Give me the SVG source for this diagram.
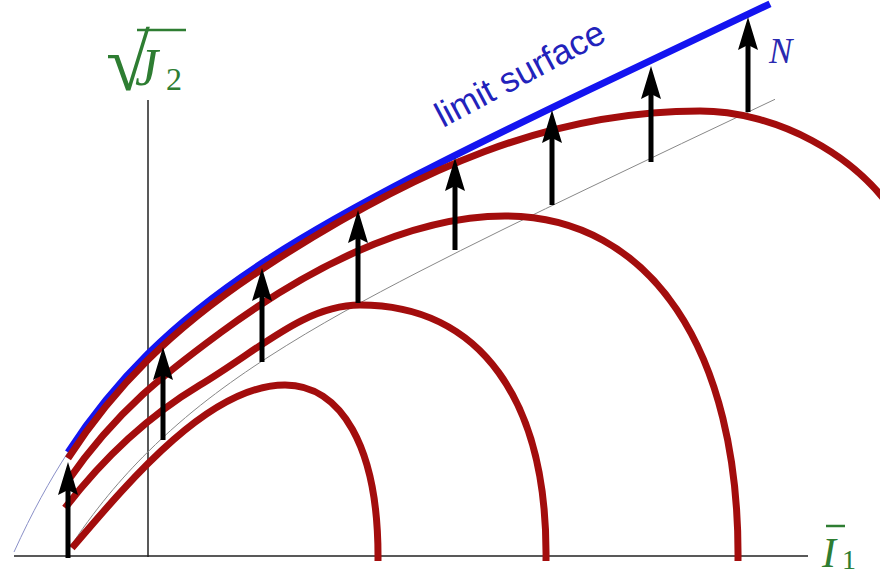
<svg xmlns="http://www.w3.org/2000/svg" xmlns:xlink="http://www.w3.org/1999/xlink" width="880" height="576" viewBox="0 0 880 576">
<defs>
<style>
.axis{stroke:#222;stroke-width:1.5;fill:none}
.thin{stroke:#888;stroke-width:1;fill:none}
.thinb{stroke:#8a90c8;stroke-width:1;fill:none}
.limit{stroke:#1414f0;stroke-width:7;fill:none}
.cap{stroke:#a30d0d;stroke-width:7;fill:none;stroke-linecap:butt}
.shaft{stroke:#000;stroke-width:5}
.lbl{fill:#2e7d32;font-family:"Liberation Serif",serif}
</style>
<path id="ah" d="M0,0 L-10,33 L0,28 L10,33 Z"/>
</defs>
<rect width="880" height="576" fill="#fff"/>
<g id="axes">
<line class="axis" x1="14" y1="556" x2="808" y2="556"/>
<line class="axis" x1="148" y1="100" x2="148" y2="557"/>
</g>
<g id="connectors">
<path id="limit-ext" class="thinb" d="M14,552 C32,512.3 50,480 68,452.3"/>
<path id="apex-line" class="thin" d="M68,550.3 C94.7,509.3 121.3,478.2 148,451.8 C188,412.2 228,383.1 268,357.2 C318,324.9 368,298 418,272.2 C474.7,243 531.3,215.5 588,188.3 C650.3,158.4 712.7,128.7 775,99.3"/>
</g>
<g id="limit-surface">
<path class="limit" d="M68,452.3 C94.7,411.3 121.3,380.2 148,353.8 C188,314.2 228,285.1 268,259.2 C318,226.9 368,200 418,174.2 C474.7,145 531.3,117.5 588,90.3 C648.7,61.2 709.3,32.5 770,3.9"/>
<text x="443" y="128" transform="rotate(-28 443 128)" font-family="Liberation Sans, Arial, sans-serif" font-size="35" fill="#2222bb">limit surface</text>
</g>
<g id="cap1"><path class="cap" d="M72,548 C130,480 210,385 285,385 C340,385 379,445 378,561"/></g>
<g id="cap2"><path class="cap" d="M65,508 C110,449.5 155,412 200,385 C260,349 305,305 360,305 C480,305 548,400 546,561"/></g>
<g id="cap3"><path class="cap" d="M67,482 C118,408 169,370.7 220,333 C300,273.8 405,216 505,216 C650,216 740,350 738,561"/></g>
<g id="cap4"><path class="cap" d="M68,458.3 C94.7,417.3 121.3,386.2 148,359.8 C188,320.2 228,291.1 268,265.2 C418,168.2 550,111 700,111 C770,111 860,150 905,230"/></g>
<g id="normals">
<g id="n1"><line class="shaft" x1="68" y1="558" x2="68" y2="485"/><use xlink:href="#ah" x="68" y="462"/></g>
<g id="n2"><line class="shaft" x1="163" y1="440" x2="163" y2="370"/><use xlink:href="#ah" x="163" y="347"/></g>
<g id="n3"><line class="shaft" x1="262" y1="362" x2="262" y2="291"/><use xlink:href="#ah" x="262" y="268"/></g>
<g id="n4"><line class="shaft" x1="358" y1="303" x2="358" y2="233"/><use xlink:href="#ah" x="358" y="210"/></g>
<g id="n5"><line class="shaft" x1="455" y1="250" x2="455" y2="181"/><use xlink:href="#ah" x="455" y="158"/></g>
<g id="n6"><line class="shaft" x1="552" y1="205" x2="552" y2="133"/><use xlink:href="#ah" x="552" y="110"/></g>
<g id="n7"><line class="shaft" x1="651" y1="162" x2="651" y2="89"/><use xlink:href="#ah" x="651" y="66"/></g>
<g id="n8"><line class="shaft" x1="748" y1="112" x2="748" y2="40"/><use xlink:href="#ah" x="748" y="17"/></g>
</g>
<g id="label-N"><text x="769" y="63" font-family="Liberation Serif, serif" font-style="italic" font-size="35" fill="#2a2ab0">N</text></g>
<g id="label-J2">
<line x1="137" y1="30" x2="186" y2="30" stroke="#2e7d32" stroke-width="2.5"/>
<text class="lbl" x="106" y="90" font-size="80">√<tspan x="135" y="85" font-size="52" font-style="italic">J</tspan><tspan x="166" y="90" font-size="32">2</tspan></text>
</g>
<g id="label-I1">
<line x1="826" y1="526" x2="845" y2="526" stroke="#2e7d32" stroke-width="2.5"/>
<text class="lbl" x="822" y="567" font-size="42"><tspan font-style="italic">I</tspan><tspan font-size="28" dx="6" dy="2">1</tspan></text>
</g>
</svg>
